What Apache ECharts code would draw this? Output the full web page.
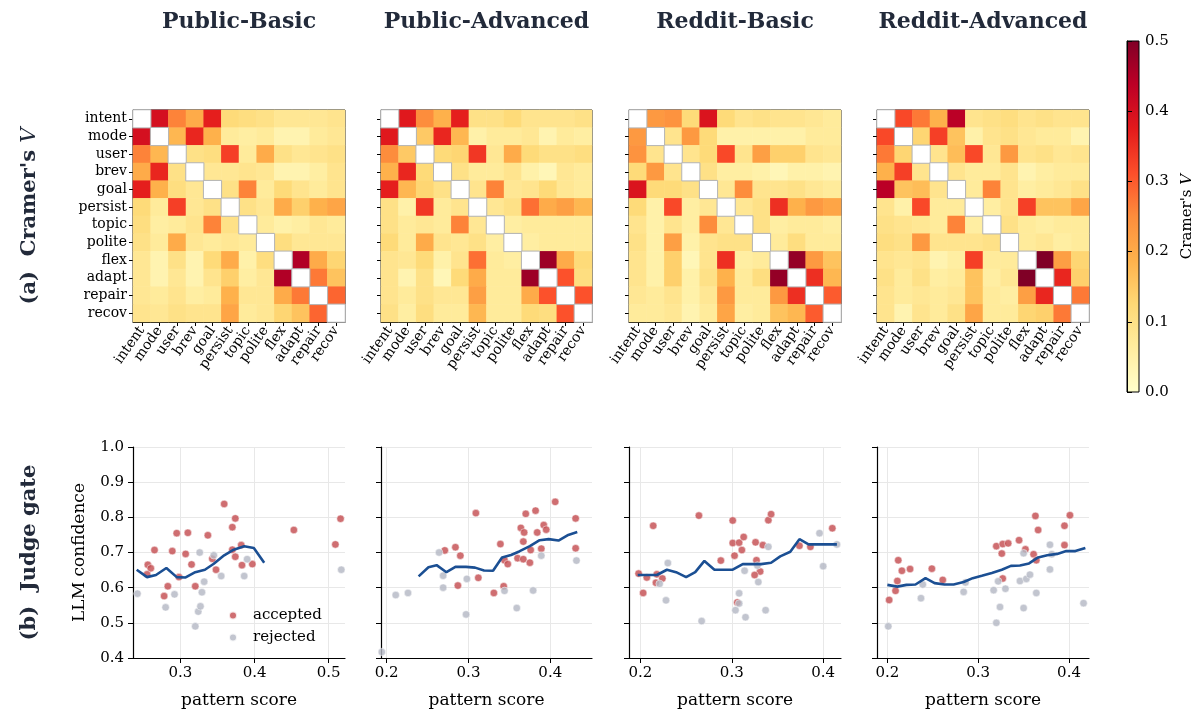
<!DOCTYPE html>
<html><head><meta charset="utf-8">
<script src="https://cdn.jsdelivr.net/npm/echarts@6/dist/echarts.min.js"></script>
<style>html,body{margin:0;padding:0;background:#fff}#c{width:1201px;height:715px}</style>
</head><body><div id="c"></div>
<script>
// ---------------- DATA ----------------
const features = ['intent','mode','user','brev','goal','persist','topic','polite','flex','adapt','repair','recov'];
const panelTitles = ['Public-Basic','Public-Advanced','Reddit-Basic','Reddit-Advanced'];
const colorbarTicks = [0, 0.1, 0.2, 0.3, 0.4, 0.5];

const cvPublicBasic = [
 [null,0.40,0.26,0.20,0.37,0.12,0.11,0.10,0.08,0.08,0.08,0.09],
 [0.40,null,0.18,0.36,0.19,0.07,0.06,0.07,0.04,0.04,0.07,0.08],
 [0.26,0.18,null,0.10,0.11,0.33,0.07,0.20,0.10,0.08,0.09,0.10],
 [0.20,0.36,0.10,null,0.08,0.08,0.09,0.08,0.04,0.04,0.06,0.09],
 [0.37,0.19,0.11,0.08,null,0.10,0.26,0.07,0.12,0.09,0.07,0.09],
 [0.12,0.07,0.33,0.08,0.10,null,0.10,0.08,0.20,0.14,0.19,0.21],
 [0.11,0.06,0.07,0.09,0.26,0.10,null,0.07,0.05,0.06,0.08,0.07],
 [0.10,0.07,0.20,0.08,0.07,0.08,0.07,null,0.11,0.08,0.08,0.08],
 [0.08,0.04,0.10,0.04,0.12,0.20,0.05,0.11,null,0.45,0.20,0.13],
 [0.08,0.04,0.08,0.04,0.09,0.14,0.06,0.08,0.45,null,0.27,0.16],
 [0.08,0.07,0.09,0.06,0.07,0.19,0.08,0.08,0.20,0.27,null,0.29],
 [0.09,0.08,0.10,0.09,0.09,0.21,0.07,0.08,0.13,0.16,0.29,null]
];
const cvPublicAdvanced = [
 [null,0.38,0.25,0.19,0.37,0.10,0.10,0.12,0.09,0.09,0.09,0.10],
 [0.38,null,0.15,0.36,0.18,0.05,0.07,0.07,0.08,0.04,0.07,0.06],
 [0.25,0.15,null,0.12,0.13,0.34,0.08,0.20,0.12,0.10,0.10,0.11],
 [0.19,0.36,0.12,null,0.10,0.07,0.07,0.09,0.05,0.03,0.08,0.07],
 [0.37,0.18,0.13,0.10,null,0.09,0.26,0.08,0.09,0.12,0.08,0.07],
 [0.10,0.05,0.34,0.07,0.09,null,0.08,0.10,0.28,0.20,0.22,0.18],
 [0.10,0.07,0.08,0.07,0.26,0.08,null,0.06,0.07,0.07,0.07,0.07],
 [0.12,0.07,0.20,0.09,0.08,0.10,0.06,null,0.06,0.07,0.07,0.07],
 [0.09,0.08,0.12,0.05,0.09,0.28,0.07,0.06,null,0.47,0.20,0.12],
 [0.09,0.04,0.10,0.03,0.12,0.20,0.07,0.07,0.47,null,0.31,0.11],
 [0.09,0.07,0.10,0.08,0.08,0.22,0.07,0.07,0.20,0.31,null,0.31],
 [0.10,0.06,0.11,0.07,0.07,0.18,0.07,0.07,0.12,0.11,0.31,null]
];
const cvRedditBasic = [
 [null,0.23,0.24,0.12,0.39,0.12,0.09,0.10,0.09,0.09,0.08,0.07],
 [0.23,null,0.09,0.23,0.12,0.05,0.05,0.05,0.05,0.05,0.07,0.07],
 [0.24,0.09,null,0.09,0.12,0.32,0.09,0.22,0.14,0.14,0.09,0.08],
 [0.12,0.23,0.09,null,0.10,0.06,0.06,0.05,0.03,0.05,0.05,0.04],
 [0.39,0.12,0.12,0.10,null,0.08,0.25,0.09,0.09,0.10,0.08,0.07],
 [0.12,0.05,0.32,0.06,0.08,null,0.08,0.10,0.35,0.19,0.23,0.21],
 [0.09,0.05,0.09,0.06,0.25,0.08,null,0.10,0.06,0.07,0.07,0.06],
 [0.10,0.05,0.22,0.05,0.09,0.10,0.10,null,0.07,0.11,0.07,0.07],
 [0.09,0.05,0.14,0.03,0.09,0.35,0.06,0.07,null,0.48,0.23,0.16],
 [0.09,0.05,0.14,0.05,0.10,0.19,0.07,0.11,0.48,null,0.35,0.18],
 [0.08,0.07,0.09,0.05,0.08,0.23,0.07,0.07,0.23,0.35,null,0.30],
 [0.07,0.07,0.08,0.04,0.07,0.21,0.06,0.07,0.16,0.18,0.30,null]
];
const cvRedditAdvanced = [
 [null,0.32,0.27,0.19,0.44,0.09,0.10,0.11,0.09,0.10,0.09,0.09],
 [0.32,null,0.13,0.33,0.16,0.05,0.09,0.10,0.08,0.07,0.07,0.04],
 [0.27,0.13,null,0.09,0.17,0.32,0.08,0.23,0.09,0.10,0.08,0.09],
 [0.19,0.33,0.09,null,0.09,0.07,0.07,0.09,0.04,0.06,0.07,0.07],
 [0.44,0.16,0.17,0.09,null,0.07,0.26,0.09,0.06,0.07,0.08,0.10],
 [0.09,0.05,0.32,0.07,0.07,null,0.06,0.09,0.33,0.16,0.16,0.21],
 [0.10,0.09,0.08,0.07,0.26,0.06,null,0.10,0.07,0.06,0.07,0.07],
 [0.11,0.10,0.23,0.09,0.09,0.09,0.10,null,0.07,0.08,0.06,0.07],
 [0.09,0.08,0.09,0.04,0.06,0.33,0.07,0.07,null,0.50,0.22,0.13],
 [0.10,0.07,0.10,0.06,0.07,0.16,0.06,0.08,0.50,null,0.36,0.14],
 [0.09,0.07,0.08,0.07,0.08,0.16,0.07,0.06,0.22,0.36,null,0.27],
 [0.09,0.04,0.09,0.07,0.10,0.21,0.07,0.07,0.13,0.14,0.27,null]
];

const accPublicBasic = [[0.256,0.665],[0.260,0.655],[0.255,0.638],[0.265,0.707],[0.289,0.704],[0.295,0.755],[0.298,0.630],[0.278,0.576],[0.283,0.604],[0.307,0.696],[0.310,0.756],[0.315,0.666],[0.320,0.604],[0.337,0.749],[0.343,0.682],[0.348,0.651],[0.359,0.838],[0.370,0.772],[0.374,0.797],[0.370,0.708],[0.374,0.688],[0.382,0.721],[0.383,0.664],[0.397,0.667],[0.453,0.764],[0.509,0.723],[0.516,0.796]];
const rejPublicBasic = [[0.242,0.583],[0.280,0.544],[0.292,0.581],[0.320,0.490],[0.324,0.532],[0.326,0.700],[0.327,0.547],[0.329,0.587],[0.332,0.617],[0.345,0.692],[0.355,0.633],[0.386,0.633],[0.390,0.681],[0.517,0.651]];
const trendPublicBasic = [[0.241,0.651],[0.255,0.630],[0.267,0.636],[0.281,0.656],[0.295,0.630],[0.307,0.629],[0.320,0.644],[0.333,0.651],[0.345,0.668],[0.359,0.692],[0.372,0.708],[0.386,0.718],[0.399,0.713],[0.413,0.671]];

const accPublicAdvanced = [[0.271,0.706],[0.284,0.715],[0.290,0.691],[0.287,0.606],[0.309,0.812],[0.312,0.628],[0.331,0.585],[0.339,0.724],[0.343,0.604],[0.344,0.678],[0.348,0.667],[0.360,0.684],[0.364,0.770],[0.367,0.731],[0.368,0.757],[0.370,0.810],[0.367,0.681],[0.376,0.707],[0.375,0.671],[0.382,0.819],[0.384,0.757],[0.389,0.711],[0.392,0.778],[0.395,0.765],[0.406,0.844],[0.431,0.797],[0.431,0.712]];
const rejPublicAdvanced = [[0.194,0.417],[0.211,0.579],[0.226,0.585],[0.264,0.700],[0.269,0.634],[0.269,0.600],[0.297,0.524],[0.298,0.625],[0.344,0.591],[0.359,0.542],[0.379,0.592],[0.389,0.691],[0.432,0.677]];
const trendPublicAdvanced = [[0.239,0.632],[0.251,0.658],[0.261,0.664],[0.273,0.644],[0.284,0.659],[0.297,0.659],[0.308,0.657],[0.319,0.649],[0.330,0.648],[0.341,0.686],[0.352,0.693],[0.362,0.703],[0.375,0.718],[0.387,0.735],[0.398,0.738],[0.410,0.734],[0.421,0.749],[0.433,0.758]];

const accRedditBasic = [[0.198,0.640],[0.207,0.629],[0.203,0.585],[0.214,0.776],[0.217,0.614],[0.218,0.638],[0.224,0.626],[0.264,0.805],[0.288,0.677],[0.301,0.791],[0.301,0.727],[0.303,0.691],[0.308,0.728],[0.311,0.707],[0.313,0.744],[0.306,0.558],[0.326,0.729],[0.327,0.678],[0.331,0.646],[0.325,0.636],[0.334,0.721],[0.340,0.792],[0.343,0.809],[0.374,0.719],[0.386,0.716],[0.410,0.769]];
const rejRedditBasic = [[0.221,0.611],[0.228,0.564],[0.230,0.670],[0.267,0.505],[0.304,0.536],[0.308,0.584],[0.308,0.555],[0.314,0.648],[0.315,0.516],[0.328,0.663],[0.329,0.616],[0.337,0.536],[0.340,0.716],[0.396,0.755],[0.400,0.661],[0.415,0.723]];
const trendRedditBasic = [[0.197,0.636],[0.208,0.636],[0.218,0.636],[0.229,0.651],[0.239,0.644],[0.250,0.630],[0.260,0.644],[0.270,0.676],[0.281,0.651],[0.291,0.651],[0.301,0.651],[0.312,0.667],[0.322,0.667],[0.332,0.667],[0.343,0.671],[0.353,0.689],[0.364,0.702],[0.374,0.738],[0.384,0.723],[0.394,0.723],[0.405,0.723],[0.415,0.723]];

const accRedditAdvanced = [[0.202,0.565],[0.209,0.591],[0.211,0.619],[0.212,0.678],[0.216,0.648],[0.225,0.653],[0.249,0.654],[0.261,0.622],[0.320,0.718],[0.326,0.697],[0.327,0.724],[0.333,0.726],[0.345,0.735],[0.352,0.709],[0.361,0.695],[0.364,0.678],[0.363,0.804],[0.366,0.764],[0.395,0.776],[0.395,0.721],[0.401,0.806],[0.327,0.626]];
const rejRedditAdvanced = [[0.201,0.490],[0.237,0.570],[0.239,0.609],[0.284,0.588],[0.286,0.615],[0.317,0.593],[0.322,0.618],[0.324,0.545],[0.320,0.500],[0.330,0.597],[0.346,0.619],[0.350,0.698],[0.350,0.542],[0.353,0.625],[0.357,0.637],[0.364,0.585],[0.379,0.722],[0.379,0.652],[0.381,0.695],[0.416,0.556]];
const trendRedditAdvanced = [[0.200,0.608],[0.211,0.603],[0.221,0.608],[0.231,0.609],[0.242,0.627],[0.252,0.613],[0.263,0.609],[0.273,0.609],[0.284,0.616],[0.294,0.627],[0.304,0.634],[0.315,0.642],[0.326,0.651],[0.336,0.662],[0.346,0.663],[0.356,0.669],[0.366,0.686],[0.376,0.692],[0.387,0.696],[0.397,0.704],[0.407,0.704],[0.418,0.713]];

const xTicksPublicBasic = [0.3, 0.4, 0.5];
const xTicksOthers = [0.2, 0.3, 0.4];

// ---------------- LAYOUT / STYLE ----------------
const FF = "'DejaVu Serif', 'Liberation Serif', serif";
const YLORRD = ['#ffffcc','#ffeda0','#fed976','#feb24c','#fd8d3c','#fc4e2a','#e31a1c','#bd0026','#800026'];
const LEFTS = [133, 381, 629, 877];
const WIDTHS = [212, 211, 212, 212];
const HEAT_TOP = 110, HEAT_H = 212;
const SC_TOP = 447, SC_H = 211;
const CB = {left: 1127, top: 41, width: 12, height: 351};

const panels = [
  {cv: cvPublicBasic, acc: accPublicBasic, rej: rejPublicBasic, trend: trendPublicBasic, xr: [0.236, 0.522], xt: xTicksPublicBasic},
  {cv: cvPublicAdvanced, acc: accPublicAdvanced, rej: rejPublicAdvanced, trend: trendPublicAdvanced, xr: [0.193, 0.451], xt: xTicksOthers},
  {cv: cvRedditBasic, acc: accRedditBasic, rej: rejRedditBasic, trend: trendRedditBasic, xr: [0.1875, 0.4195], xt: xTicksOthers},
  {cv: cvRedditAdvanced, acc: accRedditAdvanced, rej: rejRedditAdvanced, trend: trendRedditAdvanced, xr: [0.1886, 0.422], xt: xTicksOthers}
];

function offDiag(m){ const d=[]; m.forEach((row,i)=>row.forEach((v,j)=>{ if(v!==null) d.push([j,i,v]); })); return d; }
function onDiag(m){ const d=[]; m.forEach((row,i)=>row.forEach((v,j)=>{ if(v===null) d.push([j,i,0]); })); return d; }

const grids = [], xAxes = [], yAxes = [], series = [], heatIdx = [];
const black = {color:'#000', width:1};

panels.forEach((p, k) => {
  grids.push({left: LEFTS[k], top: HEAT_TOP, width: WIDTHS[k], height: HEAT_H, show: true, borderColor: '#000', borderWidth: 1, backgroundColor: 'transparent', outerBoundsMode: 'none'});
  const gi = grids.length - 1;
  xAxes.push({gridIndex: gi, type: 'category', data: features, position: 'bottom',
    axisLine: {show: true, lineStyle: black}, axisTick: {show: true, alignWithLabel: true, length: 4, lineStyle: black},
    axisLabel: {show: true, interval: 0, rotate: 55, margin: 6, fontFamily: FF, fontSize: 14, color: '#000', hideOverlap: false},
    splitLine: {show: false}});
  yAxes.push({gridIndex: gi, type: 'category', data: features, inverse: true,
    axisLine: {show: true, lineStyle: black}, axisTick: {show: true, alignWithLabel: true, length: 4, lineStyle: black},
    axisLabel: {show: k === 0, interval: 0, margin: 6, fontFamily: FF, fontSize: 14, color: '#000', hideOverlap: false},
    splitLine: {show: false}});
  heatIdx.push(series.length);
  series.push({type: 'heatmap', xAxisIndex: gi, yAxisIndex: gi, data: offDiag(p.cv), silent: true, emphasis: {disabled: true}});
  series.push({type: 'heatmap', xAxisIndex: gi, yAxisIndex: gi, data: onDiag(p.cv), silent: true, emphasis: {disabled: true},
    itemStyle: {color: '#ffffff', borderColor: '#b3b3b3', borderWidth: 1}});
});

panels.forEach((p, k) => {
  grids.push({left: LEFTS[k], top: SC_TOP, width: WIDTHS[k], height: SC_H, show: false, outerBoundsMode: 'none'});
  const gi = grids.length - 1;
  xAxes.push({gridIndex: gi, type: 'value', min: p.xr[0], max: p.xr[1],
    axisLine: {show: true, lineStyle: {color: '#000', width: 1.2}},
    axisTick: {show: true, length: 5, lineStyle: {color: '#000', width: 1}, customValues: p.xt},
    axisLabel: {show: true, customValues: p.xt, formatter: v => v.toFixed(1), margin: 8, fontFamily: FF, fontSize: 15, color: '#000'},
    splitLine: {show: true, lineStyle: {color: '#e8e8e8', width: 1}}});
  yAxes.push({gridIndex: gi, type: 'value', min: 0.4, max: 1.0, interval: 0.1,
    axisLine: {show: true, lineStyle: {color: '#000', width: 1.2}},
    axisTick: {show: true, length: 5, lineStyle: {color: '#000', width: 1}},
    axisLabel: {show: k === 0, formatter: v => v.toFixed(1), margin: 9, fontFamily: FF, fontSize: 15, color: '#000'},
    splitLine: {show: true, lineStyle: {color: '#e8e8e8', width: 1}}});
  series.push({type: 'scatter', name: 'accepted', xAxisIndex: gi, yAxisIndex: gi, data: p.acc, symbolSize: 7.5, silent: true,
    itemStyle: {color: '#c44e52', opacity: 0.82, borderColor: '#ffffff', borderWidth: 0.6}, z: 2});
  series.push({type: 'scatter', name: 'rejected', xAxisIndex: gi, yAxisIndex: gi, data: p.rej, symbolSize: 7.5, silent: true,
    itemStyle: {color: '#b4b8c5', opacity: 0.82, borderColor: '#ffffff', borderWidth: 0.6}, z: 2});
  series.push({type: 'line', xAxisIndex: gi, yAxisIndex: gi, data: p.trend, showSymbol: false, silent: true,
    lineStyle: {color: '#1b4f93', width: 2.6}, z: 3, animation: false});
});

grids.push({left: CB.left, top: CB.top, width: CB.width, height: CB.height, show: false, outerBoundsMode: 'none'});
const cbi = grids.length - 1;
xAxes.push({gridIndex: cbi, type: 'value', show: false, min: 0, max: 1});
yAxes.push({gridIndex: cbi, type: 'value', position: 'right', min: colorbarTicks[0], max: colorbarTicks[colorbarTicks.length-1], interval: 0.1,
  axisLine: {show: true, lineStyle: black}, axisTick: {show: true, length: 5, lineStyle: black},
  axisLabel: {show: true, formatter: v => v.toFixed(1), margin: 6, fontFamily: FF, fontSize: 15, color: '#000'},
  splitLine: {show: false}});

const chart = echarts.init(document.getElementById('c'), null, {renderer: 'canvas'});
const stops = YLORRD.map((c, i) => ({offset: i / (YLORRD.length - 1), color: c}));
const titleColor = '#222a3a';
const plainText = (x, y, text, size, rot, extra) => ({type: 'text', x: x, y: y, rotation: rot || 0,
  style: Object.assign({text: text, fontFamily: FF, fontWeight: 'normal', fontStyle: 'normal', fontSize: size, fill: '#000', align: 'center', verticalAlign: 'middle'}, extra || {})});

chart.setOption({
  animation: false,
  backgroundColor: '#ffffff',
  textStyle: {fontFamily: FF, color: '#000'},
  grid: grids, xAxis: xAxes, yAxis: yAxes, series: series,
  visualMap: {type: 'continuous', show: false, min: 0, max: 0.5, dimension: 2, seriesIndex: heatIdx, inRange: {color: YLORRD}},
  legend: {data: ['accepted', 'rejected'], orient: 'vertical', left: 223, top: 603, itemWidth: 30, itemHeight: 8, itemGap: 7,
    icon: 'circle', selectedMode: false, textStyle: {fontFamily: FF, fontSize: 15, color: '#000'}},
  graphic: [
    ...panelTitles.map((t, k) => ({type: 'text', x: LEFTS[k] + WIDTHS[k] / 2, y: 22,
      style: {text: t, fontFamily: FF, fontWeight: 'bold', fontSize: 22, fill: titleColor, align: 'center', verticalAlign: 'middle'}})),
    ...panelTitles.map((t, k) => plainText(LEFTS[k] + WIDTHS[k] / 2, 701, 'pattern score', 17)),
    plainText(80, SC_TOP + SC_H / 2, 'LLM confidence', 17, Math.PI / 2),
    plainText(1187, CB.top + CB.height / 2, "Cramer's {i|V}", 15, Math.PI / 2,
      {rich: {i: {fontFamily: FF, fontStyle: 'italic', fontSize: 15, fill: '#000'}}}),
    {type: 'text', x: 30, y: HEAT_TOP + HEAT_H / 2, rotation: Math.PI / 2,
      style: {text: "(a)  Cramer's {i|V}", fontFamily: FF, fontWeight: 'bold', fontSize: 21, fill: titleColor, align: 'center', verticalAlign: 'middle',
        rich: {i: {fontFamily: FF, fontWeight: 'normal', fontStyle: 'italic', fontSize: 21, fill: titleColor}}}},
    {type: 'text', x: 30, y: SC_TOP + SC_H / 2, rotation: Math.PI / 2,
      style: {text: '(b)  Judge gate', fontFamily: FF, fontWeight: 'bold', fontSize: 21, fill: titleColor, align: 'center', verticalAlign: 'middle'}},
    {type: 'rect', shape: {x: CB.left, y: CB.top, width: CB.width, height: CB.height}, z: 0,
      style: {fill: new echarts.graphic.LinearGradient(0, 1, 0, 0, stops), stroke: '#000', lineWidth: 1}}
  ]
});
</script></body></html>
